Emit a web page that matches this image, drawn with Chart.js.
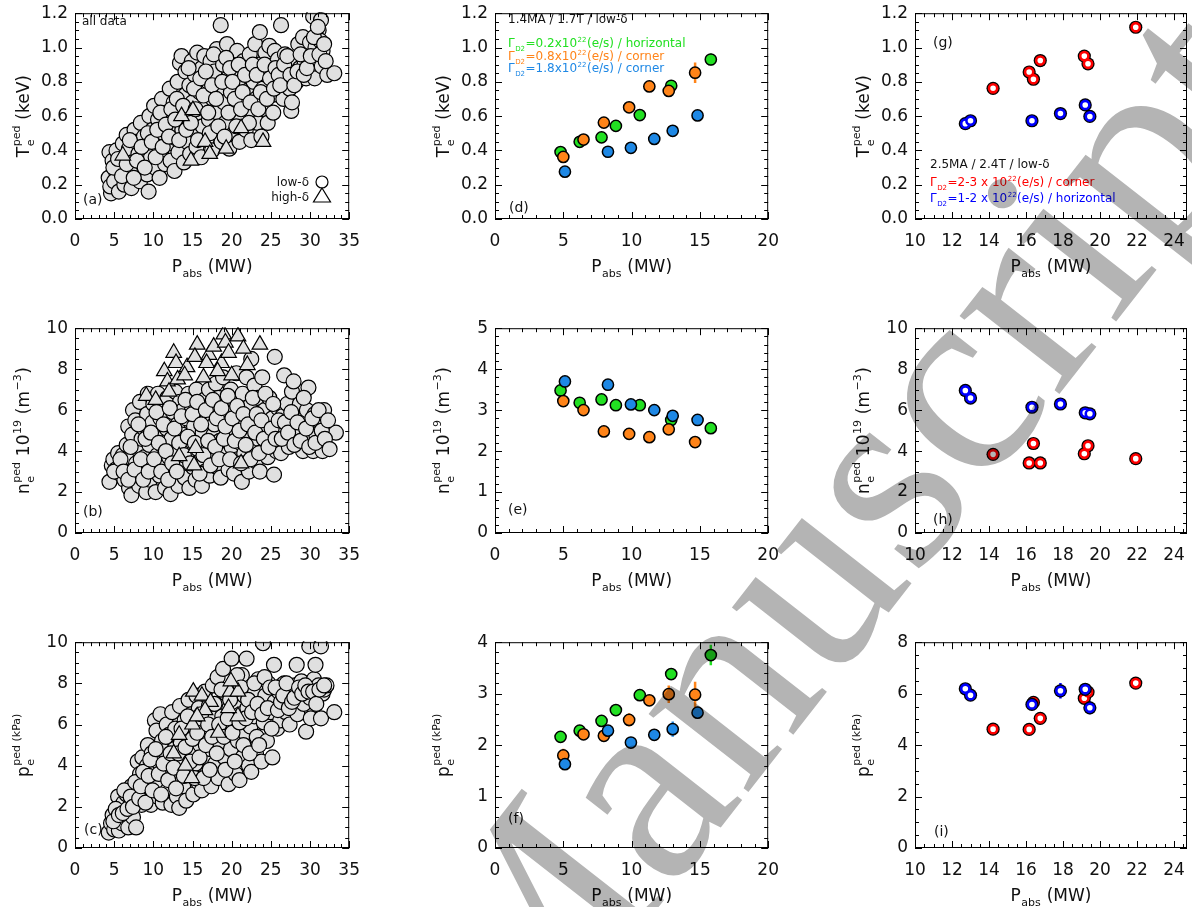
<!DOCTYPE html>
<html><head><meta charset="utf-8">
<script src="https://cdn.jsdelivr.net/npm/chart.js@4.4.1/dist/chart.umd.min.js"></script>
<style>
html,body{margin:0;padding:0;background:#fff;}
#wrap{position:relative;width:1192px;height:907px;overflow:hidden;background:#fff;}
canvas.p{position:absolute;}
#wm{position:absolute;left:0;top:0;mix-blend-mode:multiply;pointer-events:none;}
</style></head><body><div id="wrap"></div>
<script>
// ---------------- tick values / labels ----------------
const pabsTicksAll = [0,5,10,15,20,25,30,35];
const pabsTicksLow = [0,5,10,15,20];
const pabsTicksHigh = [10,12,14,16,18,20,22,24];
const teTicks = [0,0.2,0.4,0.6,0.8,1.0,1.2];
const teTickLabels = ['0.0','0.2','0.4','0.6','0.8','1.0','1.2'];
const neTicksWide = [0,2,4,6,8,10];
const neTicksLow = [0,1,2,3,4,5];
const peTicksWide = [0,2,4,6,8,10];
const peTicksLow = [0,1,2,3,4];
const peTicksHigh = [0,2,4,6,8];

// ---------------- (a)-(c): all data (P_abs [MW], value) ----------------
const allTeLow = [[4.3,0.24],[4.6,0.15],[4.5,0.19],[4.4,0.39],[4.8,0.34],[5.2,0.28],[5.0,0.22],[5.6,0.16],[5.3,0.40],
[5.9,0.30],[6.1,0.44],[6.3,0.20],[6.4,0.36],[6.6,0.49],[6.8,0.26],[6.9,0.41],[7.2,0.18],[7.3,0.33],
[7.6,0.52],[7.8,0.45],[8.0,0.28],[8.1,0.38],[8.3,0.22],[8.4,0.56],[8.6,0.32],[8.8,0.48],[9.0,0.42],[9.2,0.26],[9.4,0.16],[9.5,0.60],
[9.7,0.36],[9.9,0.52],[10.1,0.66],[10.2,0.30],[10.4,0.44],[10.6,0.58],[10.8,0.24],[11.0,0.38],[11.1,0.70],[11.3,0.50],[11.5,0.32],[11.7,0.62],[11.9,0.44],
[12.1,0.76],[12.2,0.34],[12.4,0.55],[12.6,0.68],[12.7,0.28],[12.9,0.47],[13.1,0.80],[13.2,0.39],[13.4,0.91],[13.5,0.62],[13.6,0.95],[13.7,0.52],[13.9,0.33],[14.0,0.72],[14.1,0.86],
[14.3,0.45],[14.4,0.60],[14.6,0.78],[14.7,0.38],[14.9,0.92],[15.0,0.68],[15.1,0.52],[15.3,0.84],[15.5,0.42],[15.6,0.97],[15.8,0.62],[15.9,0.74],[16.1,0.36],[16.2,0.88],[16.3,0.54],
[16.5,0.95],[16.6,0.66],[16.8,0.46],[17.0,0.80],[17.1,0.58],[17.3,0.92],[17.5,0.40],[17.6,0.70],[17.8,0.86],[17.9,0.52],[18.1,0.99],[18.2,0.62],[18.4,0.76],[18.6,1.13],[18.7,0.45],
[18.9,0.90],[19.0,0.68],[19.2,0.56],[19.4,1.02],[19.5,0.82],[19.7,0.41],[19.9,0.74],[20.0,0.94],[20.2,0.62],[20.3,0.50],[20.5,0.86],[20.7,0.98],[20.8,0.70],[21.0,0.45],[21.1,0.58],[21.3,0.80],
[21.5,0.92],[21.6,0.66],[21.8,0.52],[22.0,0.86],[22.1,0.75],[22.3,0.96],[22.5,0.46],[22.6,0.62],[22.8,0.80],[23.0,1.02],[23.1,0.70],[23.3,0.56],[23.5,0.90],[23.6,1.09],[23.8,0.48],[24.0,0.76],[24.1,0.64],
[24.3,0.97],[24.4,0.84],[24.6,0.56],[24.8,1.01],[25.0,0.72],[25.2,0.88],[25.3,0.62],[25.5,0.98],[25.7,0.80],[25.9,0.93],[26.1,0.72],[26.3,1.13],[26.4,0.86],[26.6,0.70],[26.8,0.96],
[27.0,0.82],[27.2,0.89],[27.4,0.76],[27.6,0.63],[27.7,0.68],[27.9,0.86],[28.1,0.93],[28.3,0.80],[28.5,1.02],[28.7,0.88],[28.9,0.84],[29.1,1.06],[29.3,0.90],[29.5,0.82],[29.7,0.96],
[30.0,1.03],[30.2,0.88],[30.4,1.18],[30.6,0.82],[30.7,1.00],[30.9,0.92],[31.1,1.10],[31.3,1.04],[31.4,1.16],[31.5,0.89],[31.6,0.98],[32.2,0.84],[33.1,0.85],
[4.9,0.30],[5.5,0.35],[6.0,0.25],[6.6,0.32],[7.0,0.46],[7.5,0.24],[7.9,0.34],[8.5,0.42],[8.9,0.30],[9.3,0.50],[9.8,0.45],[10.3,0.36],[10.5,0.52],[10.9,0.62],[11.2,0.42],[11.6,0.55],[12.0,0.48],[12.3,0.64],[12.8,0.58],[13.0,0.70],
[13.3,0.46],[13.8,0.66],[14.2,0.52],[14.5,0.88],[14.8,0.56],[15.2,0.76],[15.4,0.64],[15.7,0.46],[16.0,0.82],[16.4,0.72],[16.7,0.86],[17.0,0.62],[17.2,0.50],[17.5,0.78],[17.7,0.96],[18.0,0.70],[18.3,0.54],[18.8,0.80],[19.1,0.48],[19.3,0.94],
[19.6,0.62],[19.8,0.88],[20.1,0.80],[20.4,0.70],[20.6,0.54],[20.9,0.90],[21.2,0.64],[21.4,0.74],[21.7,0.84],[22.2,0.56],[22.4,0.68],[22.7,0.90],[23.2,0.84],[23.4,0.64],[23.7,0.74],[24.2,0.90],[24.5,0.70],[24.9,0.82],[25.4,0.76],[25.6,0.88],
[26.0,0.84],[26.2,0.78],[26.7,0.90],[27.1,0.95],[27.5,0.84],[28.0,0.78],[28.4,0.86],[28.8,0.96],[29.2,0.84],[29.6,0.88],[30.1,0.95],[30.5,1.06],[31.0,1.12],[31.2,0.96],[32.0,0.92],[31.8,1.02]];
const allTeHigh = [[6.1,0.37],[13.6,0.60],[15.05,0.635],[14.8,0.34],[16.6,0.45],[17.2,0.38],[19.3,0.41],[21.2,0.53],[24.0,0.45]];

const allNeLow = [[4.4,2.5],[4.7,3.3],[4.9,3.6],[5.2,3.1],[5.5,3.9],[5.7,2.9],[5.9,3.4],[6.1,3.8],
[6.3,2.6],[6.5,3.2],[6.6,4.3],[6.8,5.2],[6.9,2.2],[7.0,3.7],[7.2,1.85],[7.3,4.8],[7.4,6.0],[7.5,2.9],[7.7,5.5],[7.8,3.4],[8.0,4.1],
[8.2,2.3],[8.3,6.4],[8.5,4.6],[8.6,3.0],[8.8,5.1],[8.9,3.7],[9.1,2.0],[9.2,5.8],[9.3,6.8],[9.5,4.3],[9.6,2.6],[9.8,3.4],[9.9,5.4],[10.0,6.3],
[10.2,4.8],[10.3,2.0],[10.5,3.8],[10.6,6.8],[10.8,2.8],[10.9,5.6],[11.1,4.3],[11.2,6.2],[11.4,3.2],[11.5,2.2],[11.7,5.1],[11.8,6.6],[12.0,3.7],
[12.2,1.9],[12.3,4.6],[12.5,5.9],[12.6,2.8],[12.8,6.9],[12.9,4.0],[13.1,5.3],[13.2,2.3],[13.4,6.4],[13.5,3.4],[13.7,4.8],[13.8,6.0],[14.0,2.7],
[14.2,5.6],[14.3,3.9],[14.5,6.8],[14.6,2.2],[14.8,4.5],[14.9,6.2],[15.1,3.2],[15.2,5.2],[15.4,2.6],[15.5,7.0],[15.7,4.1],[15.8,5.8],[16.0,3.5],
[16.2,2.3],[16.3,4.9],[16.5,6.5],[16.6,3.0],[16.8,5.5],[16.9,4.2],[17.1,7.0],[17.2,2.8],[17.4,6.0],[17.5,3.6],[17.7,4.8],[17.8,5.3],[18.0,7.3],
[18.2,3.2],[18.3,6.6],[18.5,4.5],[18.6,2.7],[18.8,5.7],[18.9,7.6],[19.1,3.8],[19.3,6.2],[19.4,4.9],[19.6,3.1],[19.7,5.4],[19.9,7.0],[20.0,4.2],
[20.2,6.5],[20.3,2.9],[20.5,5.0],[20.6,7.8],[20.8,3.6],[20.9,5.9],[21.1,4.4],[21.3,2.5],[21.4,6.8],[21.6,3.9],[21.7,5.3],[21.9,7.6],[22.0,4.7],
[22.2,3.0],[22.3,6.2],[22.5,8.5],[22.6,4.1],[22.8,5.6],[22.9,7.2],[23.1,3.5],[23.3,6.6],[23.4,4.6],[23.6,3.0],[23.7,5.2],[23.9,7.6],[24.0,4.0],
[24.2,6.0],[24.4,5.1],[24.6,3.7],[24.8,6.6],[25.0,4.5],[25.2,5.6],[25.4,2.85],[25.5,8.6],[25.7,4.0],[25.9,6.1],[26.1,5.0],[26.3,3.9],[26.5,5.7],[26.7,7.7],
[26.9,4.6],[27.1,6.3],[27.3,4.2],[27.5,5.3],[27.7,6.9],[27.9,7.4],[28.1,4.8],[28.3,5.9],[28.5,4.4],[28.7,6.3],[28.9,5.0],[29.1,4.0],[29.3,5.6],[29.6,6.0],[29.8,7.1],
[30.0,4.5],[30.2,5.2],[30.4,4.0],[30.6,5.8],[30.8,4.8],[31.0,5.5],[31.2,4.4],[31.4,5.9],[31.6,4.0],[31.8,6.0],[32.0,5.0],[33.3,4.9],
[5.0,3.0],[5.8,3.6],[6.2,3.0],[6.8,2.6],[7.1,4.2],[7.6,3.1],[8.1,5.3],[8.4,3.6],[8.7,2.6],[9.0,4.6],[9.4,3.0],[9.7,4.9],[10.1,3.6],[10.4,5.9],[10.7,4.4],[11.0,3.0],[11.3,5.3],[11.6,4.0],[11.9,2.6],[12.1,6.1],
[12.4,3.4],[12.7,5.1],[13.0,3.0],[13.3,4.4],[13.6,5.7],[13.9,3.8],[14.1,6.5],[14.4,4.7],[14.7,3.4],[15.0,5.8],[15.3,4.4],[15.6,6.4],[15.9,2.9],[16.1,5.3],[16.4,3.8],[16.7,6.0],[17.0,4.5],[17.3,3.3],[17.6,6.5],[17.9,4.2],
[18.1,5.6],[18.4,3.6],[18.7,6.1],[19.0,4.6],[19.2,5.2],[19.5,6.7],[19.8,3.6],[20.1,5.6],[20.4,4.5],[20.7,6.2],[21.0,5.0],[21.2,3.4],[21.5,5.8],[21.8,4.3],[22.1,5.3],[22.4,3.6],[22.7,6.6],[23.0,4.9],[23.2,5.8],[23.5,3.9],
[23.8,5.5],[24.1,4.6],[24.3,6.8],[24.7,4.2],[25.1,5.1],[25.3,6.3],[25.6,4.6],[26.0,5.5],[26.4,4.6],[26.8,5.4],[27.2,4.9],[27.6,5.9],[28.0,4.3],[28.4,5.4],[28.8,4.5],[29.2,6.6],[29.5,5.1],[29.9,4.2],[30.3,5.6],[30.7,4.4],
[31.1,6.0],[31.5,5.0],[31.9,4.6],[32.3,5.5],[32.5,4.1]];
const allNeHigh = [[9.1,6.7],[11.4,7.9],[12.6,8.8],[12.9,8.3],[11.8,7.4],[13.1,7.5],[14.3,8.1],[14.0,7.7],[15.6,9.2],[15.3,8.6],[16.4,7.6],[17.1,8.7],[17.7,9.1],[18.7,8.3],[19.0,9.7],[19.2,9.3],[19.6,8.8],[20.0,7.7],[20.8,9.6],[21.5,9.0],[22.0,8.2],[23.6,9.2],[16.8,8.3],[18.2,7.9],[15.2,3.3],[15.4,4.15],[13.3,3.75],[21.2,3.4],[12.0,6.9],[10.3,6.5]];

const allPeLow = [[4.3,0.75],[4.6,1.2],[4.8,1.6],[5.0,0.9],[5.3,1.4],[5.5,2.5],[5.6,0.85],[5.8,1.9],[6.0,1.2],
[6.2,2.2],[6.4,1.6],[6.6,2.6],[6.8,1.0],[7.0,2.0],[7.2,3.0],[7.4,1.5],[7.6,2.4],[7.8,1.0],[8.0,4.2],[8.1,2.9],[8.3,3.6],
[8.5,2.1],[8.6,4.4],[8.8,3.3],[9.0,2.6],[9.2,4.0],[9.3,5.0],[9.5,3.0],[9.7,2.1],[9.8,4.6],[10.0,3.6],[10.2,6.2],[10.4,5.7],[10.5,2.5],
[10.6,4.2],[10.8,3.1],[10.9,6.5],[11.1,5.2],[11.2,2.2],[11.4,4.7],[11.5,3.7],[11.7,6.0],[11.8,2.8],[12.0,5.5],[12.1,4.1],[12.3,2.1],
[12.4,6.6],[12.5,3.3],[12.7,4.8],[12.8,5.8],[13.0,2.5],[13.1,3.9],[13.3,1.95],[13.4,6.9],[13.5,5.1],[13.7,4.4],[13.8,3.0],[14.0,6.2],
[14.2,2.3],[14.3,5.5],[14.5,7.2],[14.6,3.6],[14.8,4.7],[14.9,6.5],[15.1,2.6],[15.2,5.9],[15.4,4.1],[15.5,7.4],[15.7,3.2],[15.8,6.8],[16.0,5.0],
[16.2,2.8],[16.3,6.0],[16.5,4.4],[16.6,7.6],[16.8,3.6],[16.9,5.4],[17.1,6.9],[17.3,4.8],[17.4,3.0],[17.6,7.9],[17.7,6.3],[17.9,4.1],[18.0,5.6],
[18.2,8.3],[18.3,3.4],[18.5,7.0],[18.6,5.0],[18.8,6.4],[18.9,8.7],[19.1,4.4],[19.3,7.5],[19.4,5.8],[19.6,3.1],[19.7,6.8],[19.9,4.8],[20.0,9.2],
[20.2,6.0],[20.3,8.0],[20.5,3.6],[20.6,7.0],[20.8,5.2],[21.0,3.3],[21.1,6.5],[21.3,8.4],[21.4,4.4],[21.6,7.4],[21.7,5.6],[21.9,9.2],[22.0,6.8],
[22.2,4.0],[22.4,5.9],[22.5,3.7],[22.7,7.6],[22.9,6.4],[23.1,4.6],[23.2,5.4],[23.4,8.2],[23.6,6.9],[23.8,4.2],[24.0,9.95],[24.1,6.1],[24.3,7.4],[24.5,5.2],[24.7,8.0],
[25.0,6.6],[25.2,4.4],[25.4,8.9],[25.5,7.1],[25.8,5.8],[26.0,7.6],[26.2,6.2],[26.4,7.9],[26.7,8.0],[26.9,6.6],[27.1,7.3],[27.4,6.0],[27.6,7.6],[27.8,6.9],
[28.1,7.9],[28.3,8.9],[28.4,6.5],[28.7,7.4],[28.9,8.1],[29.2,7.0],[29.5,5.65],[29.6,7.8],[29.9,9.8],[30.0,7.3],[30.1,6.3],[30.3,8.0],[30.5,8.2],[30.7,8.9],[30.9,7.6],
[31.1,7.9],[31.4,6.3],[31.4,9.8],[31.6,7.5],[31.8,7.7],[32.1,7.9],[33.1,6.6],
[4.9,1.3],[5.2,1.9],[5.6,1.6],[6.1,1.7],[6.3,2.8],[6.7,1.9],[7.1,2.5],[7.4,2.0],[7.7,3.2],[8.2,2.4],[8.4,3.0],[8.7,3.7],[9.0,2.2],[9.4,3.5],[9.6,4.3],[9.9,2.8],[10.3,4.8],[10.7,3.6],[11.0,2.6],[11.3,4.1],
[11.6,5.4],[11.9,3.3],[12.2,4.6],[12.6,3.9],[12.9,2.9],[13.2,4.6],[13.6,5.8],[13.9,3.5],[14.1,4.9],[14.4,6.4],[14.7,4.2],[15.0,5.3],[15.3,3.4],[15.6,5.6],[15.9,4.4],[16.1,6.5],[16.4,3.4],[16.7,5.0],[17.0,6.0],[17.2,3.8],
[17.5,5.4],[17.8,7.0],[18.1,4.6],[18.4,6.0],[18.7,7.7],[19.0,5.4],[19.2,3.8],[19.5,6.3],[19.8,7.2],[20.1,5.6],[20.4,4.2],[20.7,8.4],[21.0,6.1],[21.2,7.8],[21.5,5.0],[21.8,6.3],[22.1,7.2],[22.3,4.6],[22.6,6.6],[22.9,8.0],
[23.3,7.0],[23.5,5.0],[23.9,6.5],[24.2,8.3],[24.6,6.8],[24.9,7.8],[25.1,5.8],[25.6,7.8],[25.9,6.7],[26.3,7.1],[26.6,7.4],[27.0,8.0],[27.3,6.8],[27.7,7.1],[28.0,7.3],[28.6,7.8],[29.0,7.5],[29.4,7.9],[29.8,7.6],[30.4,7.6],
[30.8,7.0],[31.2,7.7],[31.8,7.9]];
const allPeHigh = [[15.1,7.6],[16.2,7.4],[17.3,7.1],[19.8,7.6],[20.8,7.6],[20.8,6.4],[19.6,6.8],[16.6,6.7],[15.0,6.0],[15.6,6.4],[14.9,3.4],[14.1,4.0],[13.3,5.5],[12.6,4.6],[18.3,5.6],[19.9,8.1]];

// ---------------- (d)-(f): 1.4MA / 1.7T ----------------
const greenP  = [4.8, 6.2, 7.8, 8.85, 10.6, 12.9, 15.8];
const greenTe = [0.39, 0.45, 0.476, 0.543, 0.606, 0.777, 0.93];
const greenNe = [3.48, 3.18, 3.26, 3.12, 3.12, 2.76, 2.56];
const greenPe = [2.16, 2.28, 2.47, 2.68, 2.97, 3.38, 3.75];
const greenTeErr = [0,0,0,0,0,0,0.035];
const greenPeErr = [0,0,0,0,0,0,0.2];

const orangeP  = [5.0, 6.48, 7.97, 9.82, 11.3, 12.72, 14.65];
const orangeTe = [0.362, 0.463, 0.562, 0.651, 0.773, 0.747, 0.853];
const orangeNe = [3.22, 3.0, 2.48, 2.42, 2.34, 2.53, 2.22];
const orangePe = [1.80, 2.21, 2.18, 2.49, 2.87, 2.99, 2.98];
const orangeTeErr = [0,0,0,0.02,0,0.02,0.06];
const orangePeErr = [0.13,0,0,0.13,0,0.17,0.25];

const blueP  = [5.12, 8.27, 9.95, 11.66, 13.01, 14.83];
const blueTe = [0.276, 0.392, 0.415, 0.467, 0.514, 0.604];
const blueNe = [3.70, 3.62, 3.14, 3.0, 2.86, 2.76];
const bluePe = [1.63, 2.28, 2.05, 2.2, 2.31, 2.63];
const bluePeErr = [0,0,0,0,0.15,0.12];

// ---------------- (g)-(i): 2.5MA / 2.4T ----------------
const redP  = [14.22, 16.17, 16.40, 16.77, 19.15, 19.35, 21.93];
const redTe = [0.762, 0.857, 0.815, 0.924, 0.95, 0.905, 1.118];
const redNe = [3.84, 3.42, 4.37, 3.42, 3.87, 4.26, 3.63];
const redPe = [4.62, 4.61, 5.66, 5.04, 5.82, 6.06, 6.41];
const redPErr = [0.3, 0.3, 0, 0, 0, 0, 0];

const hBlueP  = [12.72, 13.0, 16.32, 17.86, 19.2, 19.45];
const hBlueTe = [0.556, 0.573, 0.573, 0.615, 0.665, 0.598];
const hBlueNe = [6.96, 6.59, 6.14, 6.30, 5.87, 5.82];
const hBluePe = [6.19, 5.94, 5.58, 6.11, 6.17, 5.45];
const hBluePErr = [0.3, 0, 0, 0.3, 0, 0];
const hBluePeErr = [0, 0, 0.15, 0.3, 0, 0.25];

// ---------------- text ----------------
const WATERMARK = 'Manuscript';
const FONT = "'DejaVu Sans', 'Liberation Sans', sans-serif";
const GREEN = '#22e022', ORANGE = '#ff8419', BLUE = '#1e88e5', RED = '#ff0000', DBLUE = '#0000ff';
const GREY = '#e0e0e0';

const T_PABS = [['n','P'],['b','abs'],['n',' (MW)']];
const T_TE = [['n','T'],['s','e','ped'],['n',' (keV)']];
const T_NE = [['n','n'],['s','e','ped'],['n',' 10'],['p','19'],['n',' (m'],['p','\u22123'],['n',')']];
const T_PE = [['n','p'],['s','e','ped (kPa)']];

const wrap = document.getElementById('wrap');
const COLS = [{L:75,R:352},{L:495,R:771},{L:915,R:1187}];
const ROWS = [{T:10,B:219},{T:325,B:533},{T:639,B:848}];

function zip(xs, ys) { return xs.map((x,i)=>({x, y: ys[i]})); }
function pairs(a) { return a.map(p=>({x:p[0], y:p[1]})); }

function drawRich(ctx, parts, x, y, F, color, align) {
  const fs = Math.round(F*0.62);
  const fN = F + 'px ' + FONT, fS = fs + 'px ' + FONT;
  const widths = parts.map(p => {
    if (p[0] === 'n') { ctx.font = fN; return ctx.measureText(p[1]).width; }
    ctx.font = fS;
    if (p[0] === 's') return Math.max(ctx.measureText(p[1]).width, ctx.measureText(p[2]).width) + 1;
    return ctx.measureText(p[1]).width + 1;
  });
  const total = widths.reduce((s,w)=>s+w, 0);
  let cx = align === 'center' ? x - total/2 : (align === 'right' ? x - total : x);
  ctx.fillStyle = color; ctx.textAlign = 'left'; ctx.textBaseline = 'alphabetic';
  const base = y + F*0.36;
  parts.forEach((p,i) => {
    if (p[0] === 'n') { ctx.font = fN; ctx.fillText(p[1], cx, base); }
    else if (p[0] === 'b') { ctx.font = fS; ctx.fillText(p[1], cx + 0.5, base + F*0.28); }
    else if (p[0] === 'p') { ctx.font = fS; ctx.fillText(p[1], cx + 0.5, base - F*0.45); }
    else { ctx.font = fS; ctx.fillText(p[1], cx + 0.5, base + F*0.28); ctx.fillText(p[2], cx + 0.5, base - F*0.52); }
    cx += widths[i];
  });
}

function makeDeco(cfg) {
  return {
    id: 'deco_' + cfg.id,
    beforeDatasetsDraw(chart) {
      const ctx = chart.ctx, a = chart.chartArea, xs = chart.scales.x, ys = chart.scales.y;
      ctx.save();
      ctx.beginPath(); ctx.rect(a.left, a.top, a.right - a.left, a.bottom - a.top); ctx.clip();
      (cfg.errors || []).forEach(e => {
        ctx.strokeStyle = e.color; ctx.lineWidth = 2.5;
        e.x.forEach((xv, i) => {
          const px = xs.getPixelForValue(xv), py = ys.getPixelForValue(e.y[i]);
          ctx.beginPath();
          if (e.dy && e.dy[i]) { ctx.moveTo(px, ys.getPixelForValue(e.y[i] - e.dy[i])); ctx.lineTo(px, ys.getPixelForValue(e.y[i] + e.dy[i])); }
          if (e.dx && e.dx[i]) { ctx.moveTo(xs.getPixelForValue(xv - e.dx[i]), py); ctx.lineTo(xs.getPixelForValue(xv + e.dx[i]), py); }
          ctx.stroke();
        });
      });
      ctx.restore();
    },
    afterDraw(chart) {
      const ctx = chart.ctx, a = chart.chartArea, xs = chart.scales.x, ys = chart.scales.y;
      const ox = cfg.ox, oy = cfg.oy;
      ctx.save();
      ctx.strokeStyle = '#000'; ctx.lineWidth = 1;
      ctx.strokeRect(a.left + 0.5, a.top + 0.5, a.right - a.left - 1, a.bottom - a.top - 1);
      const tickSet = (scale, vals, len, isX) => {
        ctx.beginPath();
        vals.forEach(v => {
          const p = Math.round(scale.getPixelForValue(v)) + 0.5;
          if (isX) { ctx.moveTo(p, a.bottom); ctx.lineTo(p, a.bottom - len); ctx.moveTo(p, a.top); ctx.lineTo(p, a.top + len); }
          else { ctx.moveTo(a.left, p); ctx.lineTo(a.left + len, p); ctx.moveTo(a.right, p); ctx.lineTo(a.right - len, p); }
        });
        ctx.stroke();
      };
      const minorVals = (mn, mx, st, majors) => {
        const out = [];
        for (let k = 0; mn + k*st <= mx + 1e-9; k++) {
          const v = mn + k*st;
          if (!majors.some(m => Math.abs(m - v) < 1e-6)) out.push(v);
        }
        return out;
      };
      tickSet(xs, cfg.xTicks, 7, true);
      tickSet(ys, cfg.yTicks, 7, false);
      tickSet(xs, minorVals(cfg.xMin, cfg.xMax, cfg.xMinor, cfg.xTicks), 4, true);
      tickSet(ys, minorVals(cfg.yMin, cfg.yMax, cfg.yMinor, cfg.yTicks), 4, false);
      drawRich(ctx, T_PABS, (a.left + a.right)/2, a.bottom + 47, 17, '#111', 'center');
      ctx.save();
      ctx.translate(a.left - 52, (a.top + a.bottom)/2);
      ctx.rotate(-Math.PI/2);
      drawRich(ctx, cfg.yTitle, 0, 0, 17, '#111', 'center');
      ctx.restore();
      ctx.font = '14px ' + FONT; ctx.fillStyle = '#111'; ctx.textAlign = 'left'; ctx.textBaseline = 'middle';
      ctx.fillText(cfg.label, cfg.labelPos[0] - ox, cfg.labelPos[1] - oy);
      (cfg.texts || []).forEach(t => drawRich(ctx, t.parts, t.x - ox, t.y - oy, 12, t.color, t.align || 'left'));
      (cfg.symbols || []).forEach(s => {
        const x = s.x - ox, y = s.y - oy;
        ctx.beginPath();
        if (s.type === 'circle') ctx.arc(x, y, 6, 0, Math.PI*2);
        else { ctx.moveTo(x, y - 8); ctx.lineTo(x + 8.5, y + 6); ctx.lineTo(x - 8.5, y + 6); ctx.closePath(); }
        ctx.fillStyle = '#fff'; ctx.fill(); ctx.lineWidth = 1.2; ctx.strokeStyle = '#000'; ctx.stroke();
      });
      ctx.restore();
    }
  };
}

function makePanel(cfg) {
  const col = COLS[cfg.col], row = ROWS[cfg.row];
  const w = (col.R - col.L) + 95, h = (row.B - row.T) + 84;
  cfg.ox = col.L - 75; cfg.oy = row.T - 14;
  const c = document.createElement('canvas');
  c.className = 'p'; c.width = w; c.height = h;
  c.style.left = cfg.ox + 'px'; c.style.top = cfg.oy + 'px';
  c.style.width = w + 'px'; c.style.height = h + 'px';
  wrap.appendChild(c);
  const n = cfg.datasets.length;
  cfg.datasets.forEach((d, i) => { d.order = n - i; d.clip = 1; d.showLine = false; });
  new Chart(c, {
    type: 'scatter',
    data: { datasets: cfg.datasets },
    options: {
      responsive: false, animation: false, devicePixelRatio: 1,
      events: [],
      layout: { padding: { left: 0, top: 14, right: 20, bottom: 0 } },
      plugins: { legend: { display: false }, tooltip: { enabled: false } },
      scales: {
        x: {
          type: 'linear', min: cfg.xMin, max: cfg.xMax,
          grid: { display: false, drawTicks: false }, border: { display: false },
          afterBuildTicks: s => { s.ticks = cfg.xTicks.map(v => ({ value: v })); },
          afterFit: s => { s.height = 70; },
          ticks: { autoSkip: false, maxRotation: 0, padding: 12, color: '#111', font: { family: FONT, size: 17 },
                   callback: (v, i) => cfg.xLabels[i] }
        },
        y: {
          type: 'linear', min: cfg.yMin, max: cfg.yMax,
          grid: { display: false, drawTicks: false }, border: { display: false },
          afterBuildTicks: s => { s.ticks = cfg.yTicks.map(v => ({ value: v })); },
          afterFit: s => { s.width = 75; },
          ticks: { autoSkip: false, padding: 7, color: '#111', font: { family: FONT, size: 17 },
                   callback: (v, i) => cfg.yLabels[i] }
        }
      }
    },
    plugins: [makeDeco(cfg)]
  });
}

const greyCircle = data => ({ data, pointStyle: 'circle', pointRadius: 7.5, backgroundColor: GREY, borderColor: '#000', borderWidth: 1.2 });
const greyTri = data => ({ data, pointStyle: 'triangle', pointRadius: 9, backgroundColor: GREY, borderColor: '#000', borderWidth: 1.2 });
const colCircle = (data, color) => ({ data, pointStyle: 'circle', pointRadius: 5.6, backgroundColor: color, borderColor: '#000', borderWidth: 1.5 });
const ringPair = (data, color) => [
  { data, pointStyle: 'circle', pointRadius: 6.6, backgroundColor: '#000', borderWidth: 0 },
  { data, pointStyle: 'circle', pointRadius: 4.1, backgroundColor: '#fff', borderColor: color, borderWidth: 2.6 }
];
const lbl = v => v.map(String);

const xAll = { xMin: 0, xMax: 35, xTicks: pabsTicksAll, xLabels: lbl(pabsTicksAll), xMinor: 1 };
const xLow = { xMin: 0, xMax: 20, xTicks: pabsTicksLow, xLabels: lbl(pabsTicksLow), xMinor: 1 };
const xHigh = { xMin: 10, xMax: 24.7, xTicks: pabsTicksHigh, xLabels: lbl(pabsTicksHigh), xMinor: 0.5 };
const yTe = { yMin: 0, yMax: 1.2, yTicks: teTicks, yLabels: teTickLabels, yMinor: 0.05, yTitle: T_TE };

const legD = [
  { parts: [['n','1.4MA / 1.7T / low-\u03b4']], x: 508, y: 19, color: '#111' },
  { parts: [['n','\u0393'],['b','D2'],['n','=0.2x10'],['p','22'],['n','(e/s) / horizontal']], x: 508, y: 43, color: GREEN },
  { parts: [['n','\u0393'],['b','D2'],['n','=0.8x10'],['p','22'],['n','(e/s) / corner']], x: 508, y: 56, color: ORANGE },
  { parts: [['n','\u0393'],['b','D2'],['n','=1.8x10'],['p','22'],['n','(e/s) / corner']], x: 508, y: 68, color: BLUE }
];
const legG = [
  { parts: [['n','2.5MA / 2.4T / low-\u03b4']], x: 930, y: 164, color: '#111' },
  { parts: [['n','\u0393'],['b','D2'],['n','=2-3 x 10'],['p','22'],['n','(e/s) / corner']], x: 930, y: 182, color: RED },
  { parts: [['n','\u0393'],['b','D2'],['n','=1-2 x 10'],['p','22'],['n','(e/s) / horizontal']], x: 930, y: 198, color: DBLUE }
];

const panels = [
  Object.assign({ id: 'a', col: 0, row: 0, label: '(a)', labelPos: [83, 200],
    datasets: [greyCircle(pairs(allTeLow)), greyTri(pairs(allTeHigh))],
    texts: [{ parts: [['n','all data']], x: 82, y: 21, color: '#111' },
            { parts: [['n','low-\u03b4']], x: 309, y: 182, color: '#111', align: 'right' },
            { parts: [['n','high-\u03b4']], x: 309, y: 197, color: '#111', align: 'right' }],
    symbols: [{ type: 'circle', x: 322, y: 182 }, { type: 'tri', x: 322, y: 196 }] }, xAll, yTe),
  Object.assign({ id: 'b', col: 0, row: 1, label: '(b)', labelPos: [83, 512],
    datasets: [greyCircle(pairs(allNeLow)), greyTri(pairs(allNeHigh))],
    yMin: 0, yMax: 10, yTicks: neTicksWide, yLabels: lbl(neTicksWide), yMinor: 0.5, yTitle: T_NE }, xAll),
  Object.assign({ id: 'c', col: 0, row: 2, label: '(c)', labelPos: [84, 830],
    datasets: [greyCircle(pairs(allPeLow)), greyTri(pairs(allPeHigh))],
    yMin: 0, yMax: 10, yTicks: peTicksWide, yLabels: lbl(peTicksWide), yMinor: 0.5, yTitle: T_PE }, xAll),
  Object.assign({ id: 'd', col: 1, row: 0, label: '(d)', labelPos: [509, 208],
    datasets: [colCircle(zip(greenP, greenTe), GREEN), colCircle(zip(orangeP, orangeTe), ORANGE), colCircle(zip(blueP, blueTe), BLUE)],
    errors: [{ x: greenP, y: greenTe, dy: greenTeErr, color: GREEN }, { x: orangeP, y: orangeTe, dy: orangeTeErr, color: ORANGE }],
    texts: legD }, xLow, yTe),
  Object.assign({ id: 'e', col: 1, row: 1, label: '(e)', labelPos: [508, 510],
    datasets: [colCircle(zip(greenP, greenNe), GREEN), colCircle(zip(orangeP, orangeNe), ORANGE), colCircle(zip(blueP, blueNe), BLUE)],
    yMin: 0, yMax: 5, yTicks: neTicksLow, yLabels: lbl(neTicksLow), yMinor: 0.2, yTitle: T_NE }, xLow),
  Object.assign({ id: 'f', col: 1, row: 2, label: '(f)', labelPos: [508, 819],
    datasets: [colCircle(zip(greenP, greenPe), GREEN), colCircle(zip(orangeP, orangePe), ORANGE), colCircle(zip(blueP, bluePe), BLUE)],
    errors: [{ x: greenP, y: greenPe, dy: greenPeErr, color: GREEN }, { x: orangeP, y: orangePe, dy: orangePeErr, color: ORANGE }, { x: blueP, y: bluePe, dy: bluePeErr, color: BLUE }],
    yMin: 0, yMax: 4, yTicks: peTicksLow, yLabels: lbl(peTicksLow), yMinor: 0.2, yTitle: T_PE }, xLow),
  Object.assign({ id: 'g', col: 2, row: 0, label: '(g)', labelPos: [933, 43],
    datasets: [...ringPair(zip(redP, redTe), RED), ...ringPair(zip(hBlueP, hBlueTe), DBLUE)],
    errors: [{ x: redP, y: redTe, dx: redPErr, color: RED }, { x: hBlueP, y: hBlueTe, dx: hBluePErr, color: DBLUE }],
    texts: legG }, xHigh, yTe),
  Object.assign({ id: 'h', col: 2, row: 1, label: '(h)', labelPos: [933, 520],
    datasets: [...ringPair(zip(redP, redNe), RED), ...ringPair(zip(hBlueP, hBlueNe), DBLUE)],
    errors: [{ x: redP, y: redNe, dx: redPErr, color: RED }, { x: hBlueP, y: hBlueNe, dx: hBluePErr, color: DBLUE }],
    yMin: 0, yMax: 10, yTicks: neTicksWide, yLabels: lbl(neTicksWide), yMinor: 0.5, yTitle: T_NE }, xHigh),
  Object.assign({ id: 'i', col: 2, row: 2, label: '(i)', labelPos: [934, 832],
    datasets: [...ringPair(zip(redP, redPe), RED), ...ringPair(zip(hBlueP, hBluePe), DBLUE)],
    errors: [{ x: redP, y: redPe, dx: redPErr, color: RED }, { x: hBlueP, y: hBluePe, dx: hBluePErr, dy: hBluePeErr, color: DBLUE }],
    yMin: 0, yMax: 8, yTicks: peTicksHigh, yLabels: lbl(peTicksHigh), yMinor: 0.5, yTitle: T_PE }, xHigh)
];
panels.forEach(makePanel);

// watermark overlay (multiplied on top, like the reference)
const wm = document.createElement('canvas');
wm.id = 'wm'; wm.width = 1192; wm.height = 907;
wrap.appendChild(wm);
const g = wm.getContext('2d');
g.fillStyle = 'rgb(180,180,180)';
g.font = "276px 'Liberation Serif', 'DejaVu Serif', serif";
g.translate(518, 1087);
g.rotate(-52 * Math.PI / 180);
g.fillText(WATERMARK, 0, 0);
</script></body></html>
